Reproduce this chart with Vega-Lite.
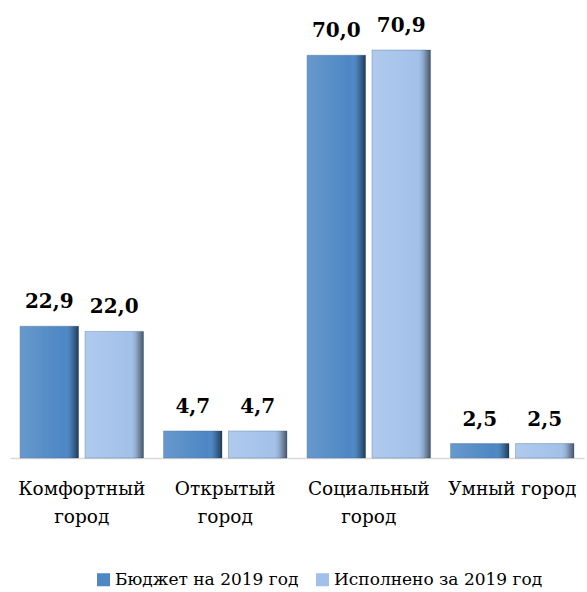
{
  "$schema": "https://vega.github.io/schema/vega-lite/v6.json",
  "width": 574,
  "height": 458,
  "autosize": {"type": "none"},
  "padding": {"left": 10, "top": 0, "right": 3, "bottom": 134},
  "background": "white",
  "config": {
    "view": {"stroke": null},
    "locale": {"number": {"decimal": ",", "thousands": " ", "grouping": [3], "currency": ["", " ₽"]}},
    "font": "DejaVu Serif"
  },
  "data": {"values": [
    {"cat": "Комфортный город", "series": "Бюджет на 2019 год", "value": 22.9},
    {"cat": "Комфортный город", "series": "Исполнено за 2019 год", "value": 22.0},
    {"cat": "Открытый город", "series": "Бюджет на 2019 год", "value": 4.7},
    {"cat": "Открытый город", "series": "Исполнено за 2019 год", "value": 4.7},
    {"cat": "Социальный город", "series": "Бюджет на 2019 год", "value": 70.0},
    {"cat": "Социальный город", "series": "Исполнено за 2019 год", "value": 70.9},
    {"cat": "Умный город", "series": "Бюджет на 2019 год", "value": 2.5},
    {"cat": "Умный город", "series": "Исполнено за 2019 год", "value": 2.5}
  ]},
  "encoding": {
    "x": {"field": "cat", "type": "nominal", "sort": null,
      "scale": {"paddingInner": 0.14, "paddingOuter": 0.07},
      "axis": {"title": null, "domainColor": "#d9d9d9", "domainWidth": 1.5, "ticks": false,
        "labelAngle": 0, "labelFont": "DejaVu Serif", "labelFontSize": 18.5, "labelColor": "#000",
        "labelPadding": 30, "labelLineHeight": 28, "labelBaseline": "middle",
        "labelExpr": "datum.label == 'Умный город' ? datum.label : split(datum.label, ' ')"}},
    "xOffset": {"field": "series", "type": "nominal", "scale": {"paddingInner": 0.1}},
    "y": {"field": "value", "type": "quantitative", "scale": {"domain": [0, 79.6], "nice": false}, "axis": null}
  },
  "layer": [
    {
      "mark": {"type": "bar", "stroke": "#3a5f8a", "strokeWidth": 0.6, "strokeOpacity": 0.6},
      "encoding": {
        "color": {"field": "series", "type": "nominal",
          "scale": {"range": ["#4d87c4", "#a2c1ea"]},
          "legend": {"title": null, "orient": "none", "legendX": 85, "legendY": 571, "direction": "horizontal",
            "symbolType": "square", "symbolSize": 170, "symbolStrokeWidth": 0, "labelFont": "DejaVu Serif",
            "labelFontSize": 17, "labelColor": "#000", "columnPadding": 15, "labelOffset": 3, "padding": 0,
            "labelLimit": 400}}
      }
    },
    {
      "mark": {"type": "bar", "fill": {"gradient": "linear", "x1": 0, "y1": 0, "x2": 1, "y2": 0,
        "stops": [
          {"offset": 0, "color": "rgba(255,255,255,0.15)"},
          {"offset": 0.75, "color": "rgba(255,255,255,0)"},
          {"offset": 0.88, "color": "rgba(0,0,0,0.15)"},
          {"offset": 1, "color": "rgba(0,0,0,0.55)"}
        ]}}
    },
    {
      "mark": {"type": "text", "font": "DejaVu Serif", "fontSize": 20, "fontWeight": "bold", "baseline": "alphabetic", "dy": -18, "color": "#000"},
      "encoding": {"text": {"field": "value", "type": "quantitative", "format": ".1f"}}
    }
  ]
}
